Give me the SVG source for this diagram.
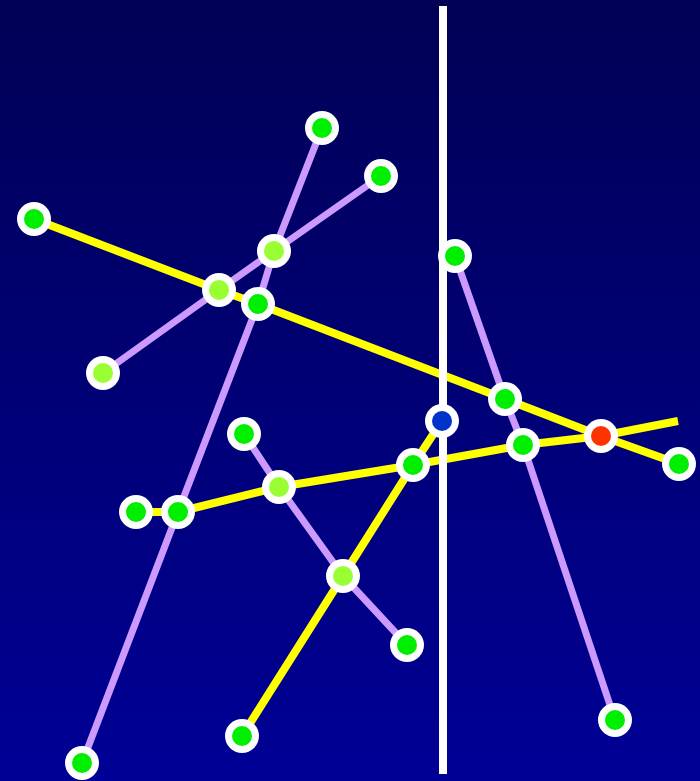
<svg xmlns="http://www.w3.org/2000/svg" width="700" height="781" viewBox="0 0 700 781">
<defs>
<linearGradient id="bg" x1="0" y1="0" x2="0" y2="1">
<stop offset="0" stop-color="#000055"/>
<stop offset="1" stop-color="#000096"/>
</linearGradient>
</defs>
<style>
.y{fill:none;stroke:#ffff00;stroke-width:8;stroke-linejoin:round}
.p{fill:none;stroke:#cc99ff;stroke-width:7;stroke-linejoin:round}
.w{stroke:#ffffff;stroke-width:8}
.ring{fill:#ffffff}
.g{fill:#00ee00}
.lg{fill:#99ff33}
.r{fill:#ff3300}
.b{fill:#0033cc}
</style>
<rect x="0" y="0" width="700" height="781" fill="url(#bg)"/>
<g id="connectors">
<polyline class="p" points="322,128 274,251 258,304 178,512 82,763"/>
<polyline class="p" points="381,176 274,251 219,290 103,373"/>
<polyline class="p" points="244,434 279,487 343,576 407,645"/>
<polyline class="p" points="455,256 505,399 523,445 615,720"/>
<polyline class="y" points="34,219 219,290 258,304 505,399 601,436 679,464"/>
<polyline class="y" points="136,512 178,512 279,487 413,465 523,445 601,436 678,421"/>
<polyline class="y" points="242,736 343,576 413,465 442,421"/>
<line class="w" x1="443" y1="6" x2="443" y2="774"/>
</g>
<g id="n1"><circle class="ring" cx="322" cy="128" r="17"/><circle class="g" cx="322" cy="128" r="10"/></g>
<g id="n2"><circle class="ring" cx="381" cy="176" r="17"/><circle class="g" cx="381" cy="176" r="10"/></g>
<g id="n3"><circle class="ring" cx="34" cy="219" r="17"/><circle class="g" cx="34" cy="219" r="10"/></g>
<g id="n4"><circle class="ring" cx="274" cy="251" r="17"/><circle class="lg" cx="274" cy="251" r="10"/></g>
<g id="n5"><circle class="ring" cx="455" cy="256" r="17"/><circle class="g" cx="455" cy="256" r="10"/></g>
<g id="n6"><circle class="ring" cx="219" cy="290" r="17"/><circle class="lg" cx="219" cy="290" r="10"/></g>
<g id="n7"><circle class="ring" cx="258" cy="304" r="17"/><circle class="g" cx="258" cy="304" r="10"/></g>
<g id="n8"><circle class="ring" cx="103" cy="373" r="17"/><circle class="lg" cx="103" cy="373" r="10"/></g>
<g id="n9"><circle class="ring" cx="505" cy="399" r="17"/><circle class="g" cx="505" cy="399" r="10"/></g>
<g id="n10"><circle class="ring" cx="442" cy="421" r="17"/><circle class="b" cx="442" cy="421" r="10"/></g>
<g id="n11"><circle class="ring" cx="244" cy="434" r="17"/><circle class="g" cx="244" cy="434" r="10"/></g>
<g id="n12"><circle class="ring" cx="601" cy="436" r="17"/><circle class="r" cx="601" cy="436" r="10"/></g>
<g id="n13"><circle class="ring" cx="523" cy="445" r="17"/><circle class="g" cx="523" cy="445" r="10"/></g>
<g id="n14"><circle class="ring" cx="413" cy="465" r="17"/><circle class="g" cx="413" cy="465" r="10"/></g>
<g id="n15"><circle class="ring" cx="679" cy="464" r="17"/><circle class="g" cx="679" cy="464" r="10"/></g>
<g id="n16"><circle class="ring" cx="279" cy="487" r="17"/><circle class="lg" cx="279" cy="487" r="10"/></g>
<g id="n17"><circle class="ring" cx="136" cy="512" r="17"/><circle class="g" cx="136" cy="512" r="10"/></g>
<g id="n18"><circle class="ring" cx="178" cy="512" r="17"/><circle class="g" cx="178" cy="512" r="10"/></g>
<g id="n19"><circle class="ring" cx="343" cy="576" r="17"/><circle class="lg" cx="343" cy="576" r="10"/></g>
<g id="n20"><circle class="ring" cx="407" cy="645" r="17"/><circle class="g" cx="407" cy="645" r="10"/></g>
<g id="n21"><circle class="ring" cx="615" cy="720" r="17"/><circle class="g" cx="615" cy="720" r="10"/></g>
<g id="n22"><circle class="ring" cx="242" cy="736" r="17"/><circle class="g" cx="242" cy="736" r="10"/></g>
<g id="n23"><circle class="ring" cx="82" cy="763" r="17"/><circle class="g" cx="82" cy="763" r="10"/></g>
</svg>
